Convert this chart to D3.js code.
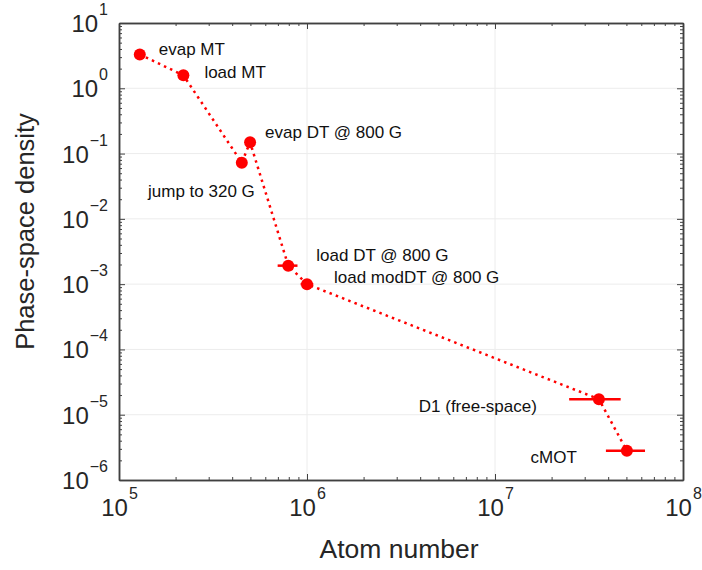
<!DOCTYPE html>
<html>
<head>
<meta charset="utf-8">
<script src="https://cdn.jsdelivr.net/npm/d3@7"></script>
<style>
  html, body { margin: 0; padding: 0; background: #fff; }
  svg { display: block; font-family: "Liberation Sans", Arial, Helvetica, sans-serif; }
</style>
</head>
<body>
<svg id="chart" width="702" height="570"></svg>
<script>
// ---- Data ----
const stageLabels = ["evap MT", "load MT", "jump to 320 G", "evap DT @ 800 G",
                     "load DT @ 800 G", "load modDT @ 800 G", "D1 (free-space)", "cMOT"];
const atomNumber  = [1.29e5, 2.2e5, 4.5e5, 4.98e5, 7.95e5, 1.0e6, 3.57e7, 5.03e7];
const psdValues   = [3.3, 1.58, 0.0726, 0.149, 1.92e-3, 1.0e-3, 1.73e-5, 2.8e-6];
const atomLow     = [null, null, null, null, 6.98e5, 9.25e5, 2.48e7, 3.89e7];
const atomHigh    = [null, null, null, null, 8.9e5, 1.08e6, 4.66e7, 6.28e7];
const xTickExponents = [5, 6, 7, 8];
const yTickExponents = [-6, -5, -4, -3, -2, -1, 0, 1];
const xTitle = "Atom number";
const yTitle = "Phase-space density";

// ---- Layout ----
const L = 119, R = 683, T = 23, B = 480;
const svg = d3.select("#chart");
const x = d3.scaleLog().domain([1e5, 1e8]).range([L, R]);
const y = d3.scaleLog().domain([1e-6, 1e1]).range([B, T]);

const majorX = xTickExponents.map(e => Math.pow(10, e));
const majorY = yTickExponents.map(e => Math.pow(10, e));
function minors(exps) {
  const out = [];
  for (let i = 0; i < exps.length - 1; i++)
    for (let k = 2; k <= 9; k++) out.push(k * Math.pow(10, exps[i]));
  return out;
}
const minorX = minors(xTickExponents);
const minorY = minors(yTickExponents);

// grid
const grid = svg.append("g").attr("stroke", "#ececec").attr("stroke-width", 1);
grid.selectAll(".gx").data(majorX.slice(1, -1)).join("line")
  .attr("x1", d => x(d)).attr("x2", d => x(d)).attr("y1", T).attr("y2", B);
grid.selectAll(".gy").data(majorY.slice(1, -1)).join("line")
  .attr("y1", d => y(d)).attr("y2", d => y(d)).attr("x1", L).attr("x2", R);

// axes (ticks inward, all four sides)
const axisColor = "#404040";
function styleAxis(g) {
  g.select(".domain").attr("stroke", axisColor).attr("stroke-width", 1.5);
  g.selectAll(".tick line").attr("stroke", axisColor).attr("stroke-width", 1);
  g.selectAll(".tick text").remove();
}
function addAxis(gen, tx, ty) {
  const g = svg.append("g").attr("transform", `translate(${tx},${ty})`).call(gen);
  styleAxis(g);
  return g;
}
addAxis(d3.axisBottom(x).tickValues(minorX).tickSize(-3).tickSizeOuter(0), 0, B);
addAxis(d3.axisTop(x).tickValues(minorX).tickSize(-3).tickSizeOuter(0), 0, T);
addAxis(d3.axisLeft(y).tickValues(minorY).tickSize(-3).tickSizeOuter(0), L, 0);
addAxis(d3.axisRight(y).tickValues(minorY).tickSize(-3).tickSizeOuter(0), R, 0);
const gxb = addAxis(d3.axisBottom(x).tickValues(majorX).tickSize(-6).tickSizeOuter(0), 0, B);
addAxis(d3.axisTop(x).tickValues(majorX).tickSize(-6).tickSizeOuter(0), 0, T);
const gyl = addAxis(d3.axisLeft(y).tickValues(majorY).tickSize(-6).tickSizeOuter(0), L, 0);
addAxis(d3.axisRight(y).tickValues(majorY).tickSize(-6).tickSizeOuter(0), R, 0);

function expText(e) { return e < 0 ? "\u2212" + Math.abs(e) : String(e); }

// x tick labels
gxb.selectAll(".tick").each(function(d) {
  const e = Math.round(Math.log10(d));
  const t = d3.select(this).append("text")
    .attr("x", 0).attr("y", 36).attr("text-anchor", "middle")
    .attr("fill", "#262626").attr("font-size", 24);
  t.append("tspan").text("10");
  t.append("tspan").attr("dy", -17).attr("dx", 1).attr("font-size", 16).text(expText(e));
});
// y tick labels
gyl.selectAll(".tick").each(function(d) {
  const e = Math.round(Math.log10(d));
  const t = d3.select(this).append("text")
    .attr("x", -11).attr("y", 8.5).attr("text-anchor", "end")
    .attr("fill", "#262626").attr("font-size", 24);
  t.append("tspan").text("10");
  t.append("tspan").attr("dy", -17).attr("dx", 1).attr("font-size", 16).text(expText(e));
});

// axis titles
svg.append("text").attr("x", (L + R) / 2 - 2).attr("y", 558).attr("text-anchor", "middle")
  .attr("font-size", 26.5).attr("fill", "#262626").text(xTitle);
svg.append("text").attr("transform", `translate(34,${(T + B) / 2 - 20}) rotate(-90)`)
  .attr("text-anchor", "middle").attr("font-size", 25.5).attr("fill", "#262626").text(yTitle);

// data
const pts = atomNumber.map((n, i) => ({
  n, p: psdValues[i], label: stageLabels[i], lo: atomLow[i], hi: atomHigh[i]
}));
const red = "#ff0000";
const line = d3.line().x(d => x(d.n)).y(d => y(d.p));
svg.append("path").datum(pts).attr("d", line)
  .attr("fill", "none").attr("stroke", red).attr("stroke-width", 2.5)
  .attr("stroke-dasharray", "2.5,4.2");

svg.append("g").selectAll("line").data(pts.filter(d => d.lo !== null)).join("line")
  .attr("x1", d => x(d.lo)).attr("x2", d => x(d.hi))
  .attr("y1", d => y(d.p)).attr("y2", d => y(d.p))
  .attr("stroke", red).attr("stroke-width", 2.5);

svg.append("g").selectAll("circle").data(pts).join("circle")
  .attr("cx", d => x(d.n)).attr("cy", d => y(d.p)).attr("r", 6).attr("fill", red);

// label placement (offsets from each point: dx, dy, anchor)
const labelPlacement = [
  [19, 1, "start"], [21, 3, "start"], [13, 34, "end"], [15, -4, "start"],
  [28, -5, "start"], [27, -1, "start"], [-62, 13, "end"], [-50, 12, "end"]
];
svg.append("g").selectAll("text").data(pts).join("text")
  .attr("x", (d, i) => x(d.n) + labelPlacement[i][0])
  .attr("y", (d, i) => y(d.p) + labelPlacement[i][1])
  .attr("text-anchor", (d, i) => labelPlacement[i][2])
  .attr("font-size", 17).attr("fill", "#111").text(d => d.label);
</script>
</body>
</html>
